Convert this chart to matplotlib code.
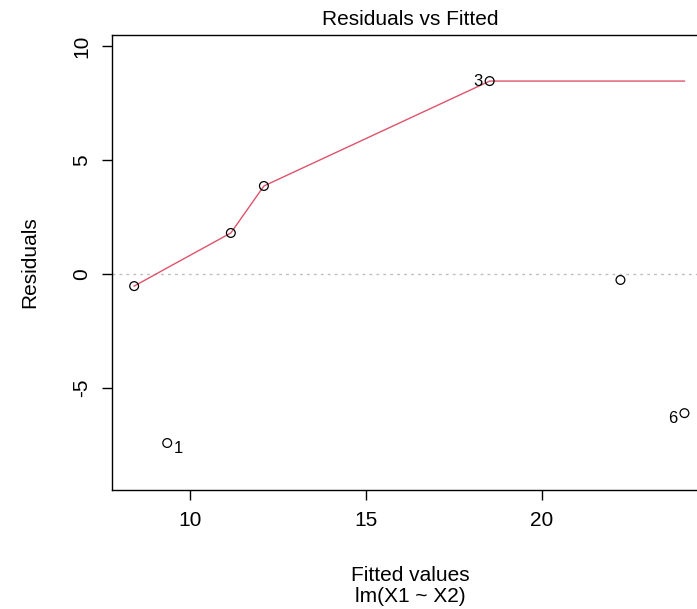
import numpy as np
import matplotlib.pyplot as plt

plt.rcParams['font.family'] = ['Liberation Sans', 'DejaVu Sans']
plt.rcParams['axes.unicode_minus'] = False

# values (lm(X1 ~ X2) diagnostic), sorted by fitted value
fitted = [8.41, 9.35, 11.16, 12.10, 18.52, 22.24, 24.06]
resid = [-0.53, -7.41, 1.80, 3.86, 8.46, -0.26, -6.10]
smooth_y = [-0.53, 0.27, 1.80, 3.86, 8.46, 8.46, 8.46]
# only the three largest residuals get their observation number
point_labels = ["", "1", "", "", "3", "", "6"]
label_side = ["", "right", "", "", "left", "", "left"]

fig = plt.figure(figsize=(6.97, 6.09), dpi=100)
ax = fig.add_axes([112 / 697, 119 / 609, 596 / 697, 455 / 609])

ax.axhline(0, color="#BEBEBE", lw=1, ls=(0, (2, 3)), zorder=1)
ax.plot(fitted, smooth_y, color="#DF536B", lw=1, zorder=2)
ax.scatter(fitted, resid, s=40, facecolors="none", edgecolors="black",
           linewidths=0.9, zorder=3)

for x, y, lab, side in zip(fitted, resid, point_labels, label_side):
    if not lab:
        continue
    if side == "right":
        ax.annotate(lab, (x, y), xytext=(5, -4), textcoords="offset points",
                    ha="left", va="center", fontsize=12)
    else:
        dy = 0 if lab == "3" else -4
        ax.annotate(lab, (x, y), xytext=(-5, dy), textcoords="offset points",
                    ha="right", va="center", fontsize=12)

ax.set_xlim(7.78, 24.73)
ax.set_ylim(-9.47, 10.48)
ax.set_xticks([10, 15, 20])
ax.set_yticks([-5, 0, 5, 10])
ax.tick_params(direction="out", length=7, width=1, labelsize=15, pad=8)
for t in ax.get_yticklabels():
    t.set_rotation(90)
    t.set_va("center")

for s in ax.spines.values():
    s.set_linewidth(1)
    s.set_color("black")

ax.set_title("Residuals vs Fitted", fontsize=15, pad=7)
ax.set_xlabel("Fitted values\nlm(X1 ~ X2)", fontsize=15, labelpad=26, linespacing=1.15)
ax.set_ylabel("Residuals", fontsize=15, labelpad=24)

fig.savefig("out.png", dpi=100)
